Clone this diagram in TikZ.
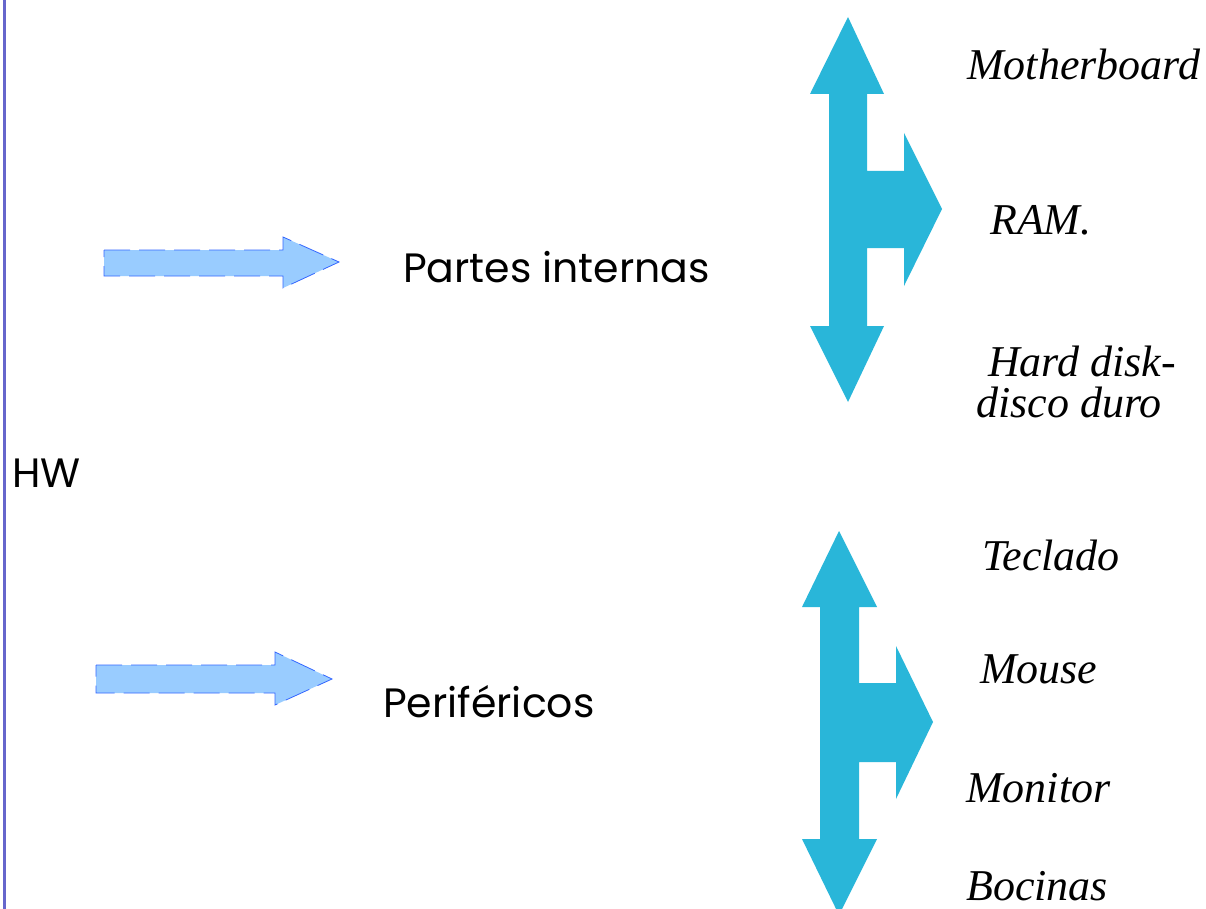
\documentclass[tikz,border=0pt]{standalone}
\usepackage{fontspec}
\setmainfont{Liberation Serif}
\newfontfamily\gothic{Poppins}
\definecolor{linecol}{RGB}{102,102,204}
\definecolor{lightfill}{RGB}{153,204,255}
\definecolor{lightedge}{RGB}{51,102,255}
\definecolor{cyanarrow}{RGB}{41,182,217}
\tikzset{
  lightarrow/.style={fill=lightfill, draw=lightedge, line width=0.8pt, dash pattern=on 26pt off 9pt},
  bigarrow/.style={fill=cyanarrow, draw=none},
  sanslabel/.style={anchor=base west, inner sep=0pt, font=\gothic\fontsize{41}{44}\selectfont},
  seriflabel/.style={anchor=base west, inner sep=0pt, font=\itshape\fontsize{44}{48}\selectfont},
}
\begin{document}
\begin{tikzpicture}[x=1pt,y=-1pt]
\useasboundingbox (0,0) rectangle (1206,909);
\clip (0,0) rectangle (1206,909);
\fill[white] (0,0) rectangle (1206,909);
% left line
\draw[linecol, line width=3pt] (4,0) -- (4,909);
% light arrows
\draw[lightarrow] (104,250) -- (283,250) -- (283,237) -- (339,262) -- (283,288) -- (283,276) -- (104,276) -- cycle;
\draw[lightarrow] (96,665) -- (275,665) -- (275,652) -- (332,679) -- (275,705) -- (275,693) -- (96,693) -- cycle;
% big arrows
\fill[bigarrow] (848,17) -- (884,94) -- (867,94) -- (867,171) -- (904,171) -- (904,133) -- (942,209) -- (904,286) -- (904,248) -- (867,248) -- (867,326) -- (884,326) -- (848,402) -- (810,326) -- (829,326) -- (829,94) -- (810,94) -- cycle;
\fill[bigarrow] (839,531) -- (877,607) -- (859,607) -- (859,683) -- (896,683) -- (896,646) -- (933,722) -- (896,799) -- (896,762) -- (859,762) -- (859,839) -- (877,839) -- (839,915) -- (802,839) -- (820,839) -- (820,607) -- (802,607) -- cycle;
% texts
\node[sanslabel] (hw) at (12,487) {HW};
\node[sanslabel] (internas) at (403,282) {Partes internas};
\node[sanslabel] (perif) at (383,717) {Periféricos};
\node[seriflabel] (mb) at (967,80) {Motherboard};
\node[seriflabel] (ram) at (990,235) {RAM.};
\node[seriflabel] (hd1) at (988,376) {Hard disk-};
\node[seriflabel] (hd2) at (976,417) {disco duro};
\node[seriflabel] (tec) at (982,570) {Teclado};
\node[seriflabel] (mouse) at (980,683) {Mouse};
\node[seriflabel] (mon) at (966,802) {Monitor};
\node[seriflabel] (boc) at (966,900) {Bocinas};
\end{tikzpicture}
\end{document}
